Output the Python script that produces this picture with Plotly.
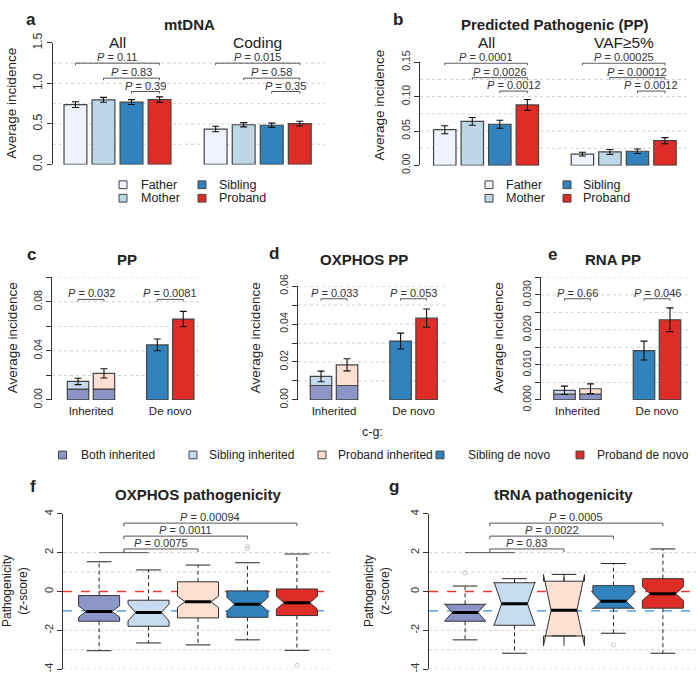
import numpy as np
import plotly.graph_objects as go

W, H = 698, 686
FONT = "Liberation Sans, Arial, sans-serif"

# ---------------- data ----------------
members = ["Father", "Mother", "Sibling", "Proband"]
member_colors = ["#eff3ff", "#bdd7e7", "#3182bd", "#de2d26"]

a_groups = ["All", "Coding"]
a_father = [0.738, 0.437]
a_mother = [0.798, 0.490]
a_sibling = [0.770, 0.484]
a_proband = [0.800, 0.504]
a_father_err = [0.036, 0.034]
a_mother_err = [0.030, 0.026]
a_sibling_err = [0.030, 0.026]
a_proband_err = [0.034, 0.030]
a_pvals_all = ["0.11", "0.83", "0.39"]
a_pvals_coding = ["0.015", "0.58", "0.35"]

b_groups = ["All", "VAF≥5%"]
b_father = [0.0519, 0.0164]
b_mother = [0.0640, 0.0196]
b_sibling = [0.0598, 0.0206]
b_proband = [0.0879, 0.0360]
b_father_err = [0.0058, 0.0028]
b_mother_err = [0.0056, 0.0035]
b_sibling_err = [0.0058, 0.0033]
b_proband_err = [0.0079, 0.0044]
b_pvals_all = ["0.0001", "0.0026", "0.0012"]
b_pvals_vaf = ["0.00025", "0.00012", "0.0012"]

cde_groups = ["Inherited", "De novo"]
cde_series = ["Both inherited", "Sibling inherited", "Proband inherited",
              "Sibling de novo", "Proband de novo"]
cde_colors = ["#8c96c6", "#c6dbef", "#fee0d2", "#3182bd", "#de2d26"]

# [sibling, proband]
c_both = [0.0089, 0.0089]
c_inh_total = [0.0151, 0.0217]
c_inh_err = [0.0026, 0.0038]
c_denovo = [0.0449, 0.0660]
c_denovo_err = [0.0048, 0.0063]
c_pvals = ["0.032", "0.0081"]

d_both = [0.0076, 0.0076]
d_inh_total = [0.0124, 0.0185]
d_inh_err = [0.0028, 0.0032]
d_denovo = [0.0310, 0.0431]
d_denovo_err = [0.0042, 0.0048]
d_pvals = ["0.033", "0.053"]

e_both = [0.0017, 0.0017]
e_inh_total = [0.00275, 0.0032]
e_inh_err = [0.0012, 0.0014]
e_denovo = [0.0141, 0.0229]
e_denovo_err = [0.0027, 0.0034]
e_pvals = ["0.66", "0.046"]

# box panels: Both inherited, Sibling inherited, Proband inherited, Sibling de novo, Proband de novo
f_q1 = [-1.53, -1.79, -1.36, -1.33, -1.24]
f_median = [-1.03, -1.08, -0.53, -0.66, -0.58]
f_q3 = [-0.21, -0.45, 0.50, 0.03, 0.13]
f_low = [-3.05, -2.65, -2.75, -2.49, -3.03]
f_high = [1.53, 1.11, 1.36, 1.48, 1.93]
f_notch = [0.29, 0.44, 0.29, 0.36, 0.33]
f_out_box = [2, 4, 4, 5]
f_out_val = [-4.1, 2.2, 2.33, -3.8]
f_pvals = ["0.0075", "0.0011", "0.00094"]

g_q1 = [-1.53, -1.74, -2.29, -0.86, -0.86]
g_median = [-1.08, -0.63, -0.96, -0.50, -0.11]
g_q3 = [-0.66, 0.45, 0.53, 0.30, 0.66]
g_low = [-2.49, -3.18, -2.29, -2.15, -3.18]
g_high = [0.28, 0.66, 0.88, 1.44, 2.19]
g_notch = [0.45, 1.12, 1.83, 0.40, 0.36]
g_out_box = [1, 4]
g_out_val = [0.96, -2.74]
g_pvals = ["0.83", "0.0022", "0.0005"]

# ---------------- helpers ----------------
def px(x):
    return x / W

def py(y):
    return 1 - y / H

def xdom(l, r):
    return [px(l), px(r)]

def ydom(top, bottom):
    return [py(bottom), py(top)]

traces = []
shapes = []
annotations = []
TXT = "#222"
GRID = "#cfcfcf"
EDGE = "#444"


def ann(text, x, y, size, bold=False, xref="paper", yref="paper", angle=0,
        xanchor="center", yanchor="middle", color=TXT, yshift=0):
    if bold:
        text = "<b>" + text + "</b>"
    annotations.append(dict(text=text, x=x, y=y, xref=xref, yref=yref,
                            showarrow=False, textangle=angle, xanchor=xanchor,
                            yanchor=yanchor, yshift=yshift, borderpad=0,
                            font=dict(size=size, color=color, family=FONT)))


def grid(axis_n, values):
    xr = "x domain" if axis_n == 1 else "x%d domain" % axis_n
    yr = "y" if axis_n == 1 else "y%d" % axis_n
    for v in values:
        shapes.append(dict(type="line", xref=xr, yref=yr, x0=0, x1=1, y0=v, y1=v,
                           line=dict(color=GRID, width=1, dash="dot"), layer="below"))


def axn(n):
    return ("x" if n == 1 else "x%d" % n), ("y" if n == 1 else "y%d" % n)


def bracket(n, x1, x2, h, drop, ptext, drop1=None, drop2=None):
    xa, ya = axn(n)
    d1 = drop if drop1 is None else drop1
    d2 = drop if drop2 is None else drop2
    traces.append(go.Scatter(x=[x1, x1, x2, x2], y=[h - d1, h, h, h - d2], mode="lines",
                             line=dict(color="#555", width=1), xaxis=xa, yaxis=ya,
                             showlegend=False, hoverinfo="skip"))
    ann("<i>P</i> = " + ptext, (x1 + x2) / 2, h, 11, xref=xa, yref=ya,
        yanchor="bottom", color="#333", yshift=-1)


# ---------------- panels a & b ----------------
slot4 = np.array([-0.3, -0.1, 0.1, 0.3])
bw4 = 0.163


def panel_ab(n, vals, errs, pv_groups, heights, drop):
    xa, ya = axn(n)
    pos = np.arange(2)
    for i in range(4):
        traces.append(go.Bar(x=pos + slot4[i], y=vals[i], width=bw4,
                             marker=dict(color=member_colors[i], line=dict(color=EDGE, width=1.2)),
                             error_y=dict(type="data", array=errs[i], visible=True, color="#111",
                                          thickness=1.1, width=3.5),
                             xaxis=xa, yaxis=ya, showlegend=False, hoverinfo="skip"))
    for gi, pvs in enumerate(pv_groups):
        for k in range(3):
            bracket(n, gi + slot4[k], gi + slot4[3], heights[k], drop, pvs[k])


panel_ab(1, [a_father, a_mother, a_sibling, a_proband],
         [a_father_err, a_mother_err, a_sibling_err, a_proband_err],
         [a_pvals_all, a_pvals_coding], [1.25, 1.065, 0.9], 0.025)
panel_ab(2, [b_father, b_mother, b_sibling, b_proband],
         [b_father_err, b_mother_err, b_sibling_err, b_proband_err],
         [b_pvals_all, b_pvals_vaf], [0.1485, 0.1275, 0.108], 0.003)
grid(1, [0.25, 0.5, 0.75, 1.0, 1.25])
grid(2, [0.025, 0.05, 0.075, 0.10, 0.125])

# ---------------- panels c, d, e ----------------
slot2 = np.array([-0.1635, 0.1635])
bw2 = 0.27


def panel_cde(n, both, tot, tot_err, dn, dn_err, pvals, h, drop):
    xa, ya = axn(n)
    common = dict(xaxis=xa, yaxis=ya, showlegend=False, hoverinfo="skip", width=bw2)
    line = dict(color=EDGE, width=1.2)
    traces.append(go.Bar(x=0 + slot2, y=both, marker=dict(color=cde_colors[0], line=line), **common))
    for k in range(2):
        traces.append(go.Bar(x=[0 + slot2[k]], y=[tot[k] - both[k]], base=[both[k]],
                             marker=dict(color=cde_colors[1 + k], line=line), **common))
        traces.append(go.Bar(x=[1 + slot2[k]], y=[dn[k]],
                             marker=dict(color=cde_colors[3 + k], line=line), **common))
    err_x = list(0 + slot2) + list(1 + slot2)
    err_y = list(tot) + list(dn)
    err_v = list(tot_err) + list(dn_err)
    traces.append(go.Scatter(x=err_x, y=err_y, mode="markers",
                             marker=dict(size=1, opacity=0),
                             error_y=dict(type="data", array=err_v, visible=True, color="#111",
                                          thickness=1.1, width=3.5),
                             xaxis=xa, yaxis=ya, showlegend=False, hoverinfo="skip"))
    for gi in range(2):
        bracket(n, gi + slot2[0], gi + slot2[1], h, drop, pvals[gi])


panel_cde(3, c_both, c_inh_total, c_inh_err, c_denovo, c_denovo_err, c_pvals, 0.082, 0.0016)
panel_cde(4, d_both, d_inh_total, d_inh_err, d_denovo, d_denovo_err, d_pvals, 0.0533, 0.001)
panel_cde(5, e_both, e_inh_total, e_inh_err, e_denovo, e_denovo_err, e_pvals, 0.0289, 0.00055)
grid(3, [0.02, 0.04, 0.06, 0.08, 0.10])
grid(4, [0.01, 0.02, 0.03, 0.04, 0.05, 0.06])
grid(5, [0.005, 0.01, 0.015, 0.02, 0.025, 0.03, 0.035])

# ---------------- panels f, g ----------------
BOXW = 0.83
NOTCHW = 0.185   # plotly: width at median = box width * (1 - 2*notchwidth)


def panel_box(n, q1, med, q3, lo, hi, notch, out_box, out_val, pvals):
    xa, ya = axn(n)
    xr = xa + " domain"
    shapes.append(dict(type="line", xref=xr, yref=ya, x0=0, x1=1, y0=0, y1=0,
                       line=dict(color="#e8392f", width=1.4, dash="dash"), layer="below"))
    shapes.append(dict(type="line", xref=xr, yref=ya, x0=0, x1=1, y0=-1, y1=-1,
                       line=dict(color="#3a8fd9", width=1.4, dash="dash"), layer="below"))
    wx, wy, cx, cy, mx, my = [], [], [], [], [], []
    half_m = BOXW / 2 * (1 - 2 * NOTCHW)
    for i in range(5):
        pos = i + 1
        traces.append(go.Box(x=[pos], q1=[q1[i]], median=[med[i]], q3=[q3[i]],
                             lowerfence=[q1[i]], upperfence=[q3[i]], notched=True,
                             notchspan=[notch[i]], notchwidth=NOTCHW, width=BOXW,
                             whiskerwidth=0, fillcolor=cde_colors[i],
                             line=dict(color="#333", width=1), boxpoints=False,
                             xaxis=xa, yaxis=ya, showlegend=False, hoverinfo="skip"))
        wx += [pos, pos, None, pos, pos, None]
        wy += [q3[i], hi[i], None, q1[i], lo[i], None]
        cx += [pos - 0.25, pos + 0.25, None, pos - 0.25, pos + 0.25, None]
        cy += [hi[i], hi[i], None, lo[i], lo[i], None]
        mx += [pos - half_m, pos + half_m, None]
        my += [med[i], med[i], None]
    traces.append(go.Scatter(x=wx, y=wy, mode="lines", line=dict(color="#222", width=1, dash="4px,3px"),
                             xaxis=xa, yaxis=ya, showlegend=False, hoverinfo="skip"))
    traces.append(go.Scatter(x=cx, y=cy, mode="lines", line=dict(color="#222", width=1),
                             xaxis=xa, yaxis=ya, showlegend=False, hoverinfo="skip"))
    traces.append(go.Scatter(x=mx, y=my, mode="lines", line=dict(color="#000", width=3),
                             xaxis=xa, yaxis=ya, showlegend=False, hoverinfo="skip"))
    traces.append(go.Scatter(x=out_box, y=out_val, mode="markers",
                             marker=dict(symbol="circle-open", size=4, color="#c8c8c8"),
                             cliponaxis=False, xaxis=xa, yaxis=ya, showlegend=False,
                             hoverinfo="skip"))
    # pooled reference line between the first two groups
    traces.append(go.Scatter(x=[1, 2], y=[2.0, 2.0], mode="lines", line=dict(color="#555", width=1),
                             xaxis=xa, yaxis=ya, showlegend=False, hoverinfo="skip"))
    heights = [2.19, 2.85, 3.52]
    for k, tgt in enumerate([3, 4, 5]):
        bracket(n, 1.5, tgt, heights[k], 0.16, pvals[k],
                drop1=(heights[k] - 2.0) if k == 0 else 0.16)


panel_box(6, f_q1, f_median, f_q3, f_low, f_high, f_notch, f_out_box, f_out_val, f_pvals)
panel_box(7, g_q1, g_median, g_q3, g_low, g_high, g_notch, g_out_box, g_out_val, g_pvals)
grid(6, [-4, -3, -2, 1, 2])
grid(7, [-4, -3, -2, 1, 2])

# ---------------- axes ----------------
def yax(domain, rng, tv, tt, size, anchor):
    return dict(domain=domain, range=rng, showline=True, linecolor="#333", linewidth=1,
                ticks="outside", ticklen=5, tickwidth=1, tickcolor="#333",
                tickmode="array", tickvals=tv, ticktext=tt, tickangle=-90,
                tickfont=dict(size=size, color="#333", family=FONT),
                showgrid=False, zeroline=False, anchor=anchor, fixedrange=True)


def xax(domain, rng, anchor, labels=None):
    d = dict(domain=domain, range=rng, showline=False, showgrid=False, zeroline=False,
             ticks="", anchor=anchor, fixedrange=True)
    if labels is None:
        d["showticklabels"] = False
    else:
        d.update(tickmode="array", tickvals=list(range(len(labels))), ticktext=labels,
                 tickfont=dict(size=11.5, color=TXT, family=FONT), ticklabelstandoff=3)
    return d


layout = dict(
    width=W, height=H, margin=dict(l=0, r=0, t=0, b=0), autosize=False,
    paper_bgcolor="white", plot_bgcolor="white", barmode="overlay", boxmode="overlay",
    font=dict(family=FONT, color=TXT), showlegend=False,
    xaxis=xax(xdom(53, 325), [-0.46, 1.48], "y"),
    yaxis=yax(ydom(32, 158), [0, 1.5], [0, 0.5, 1.0, 1.5], ["0.0", "0.5", "1.0", "1.5"], 12, "x"),
    xaxis2=xax(xdom(420, 687), [-0.48, 1.46], "y2"),
    yaxis2=yax(ydom(52, 159), [0, 0.15], [0, 0.05, 0.10, 0.15], ["0.00", "0.05", "0.10", "0.15"], 10.5, "x2"),
    xaxis3=xax(xdom(52, 202), [-0.492, 1.40], "y3", cde_groups),
    yaxis3=yax(ydom(275, 402), [0, 0.10], [0, 0.02, 0.04, 0.06, 0.08, 0.10],
               ["0.00", "", "0.04", "", "0.08", ""], 10.5, "x3"),
    xaxis4=xax(xdom(298, 447), [-0.453, 1.42], "y4", cde_groups),
    yaxis4=yax(ydom(284, 402), [0, 0.06], [0, 0.01, 0.02, 0.03, 0.04, 0.05, 0.06],
               ["0.00", "", "0.02", "", "0.04", "", "0.06"], 10.5, "x4"),
    xaxis5=xax(xdom(541, 690), [-0.459, 1.415], "y5", cde_groups),
    yaxis5=yax(ydom(275, 402), [0, 0.035], [0, 0.005, 0.01, 0.015, 0.02, 0.025, 0.03, 0.035],
               ["0.000", "", "0.010", "", "0.020", "", "0.030", ""], 10.5, "x5"),
    xaxis6=xax(xdom(63, 333), [0.27, 5.73], "y6"),
    yaxis6=yax(ydom(520, 681), [-4, 4], [-4, -2, 0, 2, 4], ["-4", "-2", "0", "2", "4"], 11, "x6"),
    xaxis7=xax(xdom(429, 697), [0.27, 5.69], "y7"),
    yaxis7=yax(ydom(520, 681), [-4, 4], [-4, -2, 0, 2, 4], ["-4", "-2", "0", "2", "4"], 11, "x7"),
)

# ---------------- text ----------------
for letter, x, y in [("a", 31, 8), ("b", 398, 8), ("c", 31, 251), ("d", 274, 250),
                     ("e", 552, 251), ("f", 33, 492), ("g", 394, 492)]:
    ann(letter, px(x), py(y), 17, bold=True)
for t, x, y in [("mtDNA", 189, 13), ("Predicted Pathogenic (PP)", 555, 13),
                ("PP", 127, 256), ("OXPHOS PP", 364, 256), ("RNA PP", 613, 256),
                ("OXPHOS pathogenicity", 198, 500), ("tRNA pathogenicity", 563, 500)]:
    ann(t, px(x), py(y), 15, bold=True)
for gi, g in enumerate(a_groups):
    ann(g, gi, py(32), 15.5, xref="x")
for gi, g in enumerate(b_groups):
    ann(g, gi, py(32), 15.5, xref="x2")
for x, y in [(12, 95), (380, 97), (12, 338), (255, 338), (498, 338)]:
    ann("Average incidence", px(x), py(y), 13.5, angle=-90)
for x in [15, 377]:
    ann("Pathogenicity<br>(z-score)", px(x), py(600), 12, angle=-90)


def legend_entry(label, color, bx, by, tx, size=12.5):
    shapes.append(dict(type="rect", xref="paper", yref="paper",
                       x0=px(bx - 4), x1=px(bx + 4), y0=py(by + 4), y1=py(by - 4),
                       fillcolor=color, line=dict(color=EDGE, width=1)))
    ann(label, px(tx), py(by), size, xanchor="left")


ab_leg_cols_a = [123, 123, 202, 202]
ab_leg_text_a = [140, 140, 218, 218]
ab_leg_cols_b = [489, 489, 567, 567]
ab_leg_text_b = [505, 505, 582, 582]
ab_leg_rows = [179, 193, 179, 193]
for i, m in enumerate(members):
    legend_entry(m, member_colors[i], ab_leg_cols_a[i], ab_leg_rows[i], ab_leg_text_a[i])
    legend_entry(m, member_colors[i], ab_leg_cols_b[i], ab_leg_rows[i], ab_leg_text_b[i])

ann("c-g:", px(372), py(435), 12.5)
cde_leg_box = [62.5, 193, 322, 440, 580]
cde_leg_txt = [79.5, 207.5, 337, 466.5, 596]
for i, s in enumerate(cde_series):
    legend_entry(s, cde_colors[i], cde_leg_box[i], 459, cde_leg_txt[i], 12)

layout["shapes"] = shapes
layout["annotations"] = annotations

fig = go.Figure(data=traces, layout=layout)
fig.write_html("out.html", config={"displayModeBar": False},
               post_script="document.body.style.margin='0px';document.body.style.overflow='hidden';")
